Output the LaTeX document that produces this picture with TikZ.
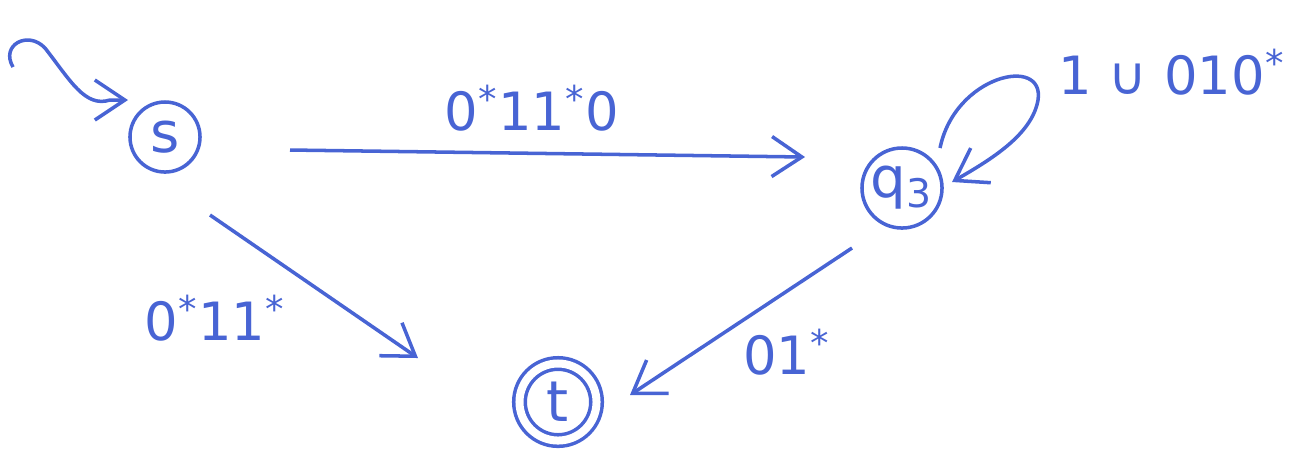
\documentclass[tikz,border=0pt]{standalone}
\usepackage{fontspec}
\setmainfont{DejaVu Sans}
\usetikzlibrary{arrows.meta}
\definecolor{ink}{RGB}{72,100,212}
\tikzset{
  state/.style={circle, draw=ink, line width=1pt, minimum size=0.70cm, inner sep=0pt, text=ink, font=\fontsize{16}{18}\selectfont},
  bigstate/.style={circle, draw=ink, line width=1pt, minimum size=0.80cm, inner sep=0pt, text=ink, font=\fontsize{16}{18}\selectfont},
  accstate/.style={circle, draw=ink, line width=1pt, double=white, double distance=0.08cm, minimum size=0.77cm, inner sep=0pt, text=ink, font=\fontsize{16}{18}\selectfont},
  edge/.style={draw=ink, line width=1pt, -{Straight Barb[length=3mm,width=4mm]}},
  lbl/.style={text=ink, font=\fontsize{15}{18}\selectfont, inner sep=0pt},
}
\begin{document}
\begin{tikzpicture}[x=0.01cm, y=-0.01cm]
\useasboundingbox (0,0) rectangle (1307,450);
\node[state] (s) at (165,137) {s};
\node[bigstate] (q3) at (902,188) {q\textsubscript{3}};
\node[accstate] (t) at (558,402) {t};
% start arrow
\coordinate (init) at (13,67);
\draw[edge] (init) .. controls (0,45) and (28,30) .. (45,48) .. controls (70,80) and (85,108) .. (110,100) -- ([shift={(-37,-37)}]s.center);
% s -> q3
\draw[edge] ([shift={(125,13)}]s.center) -- ([shift={(-97,-31)}]q3.center);
\node[lbl] (l1) at (532,108) {0\textsuperscript{*}11\textsuperscript{*}0};
% loop
\draw[edge] ([shift={(38,-40)}]q3.center) .. controls (955,75) and (1045,55) .. (1038,100) .. controls (1032,135) and (990,160) .. ([shift={(50,-6)}]q3.center);
\node[lbl] (l2) at (1172,72) {1 ∪ 010\textsuperscript{*}};
% s -> t
\draw[edge] ([shift={(45,78)}]s.center) -- ([shift={(-140,-44)}]t.center);
\node[lbl] (l3) at (215,318) {0\textsuperscript{*}11\textsuperscript{*}};
% q3 -> t
\draw[edge] ([shift={(-50,60)}]q3.center) -- ([shift={(72,-7)}]t.center);
\node[lbl] (l4) at (787,352) {01\textsuperscript{*}};
\end{tikzpicture}
\end{document}
